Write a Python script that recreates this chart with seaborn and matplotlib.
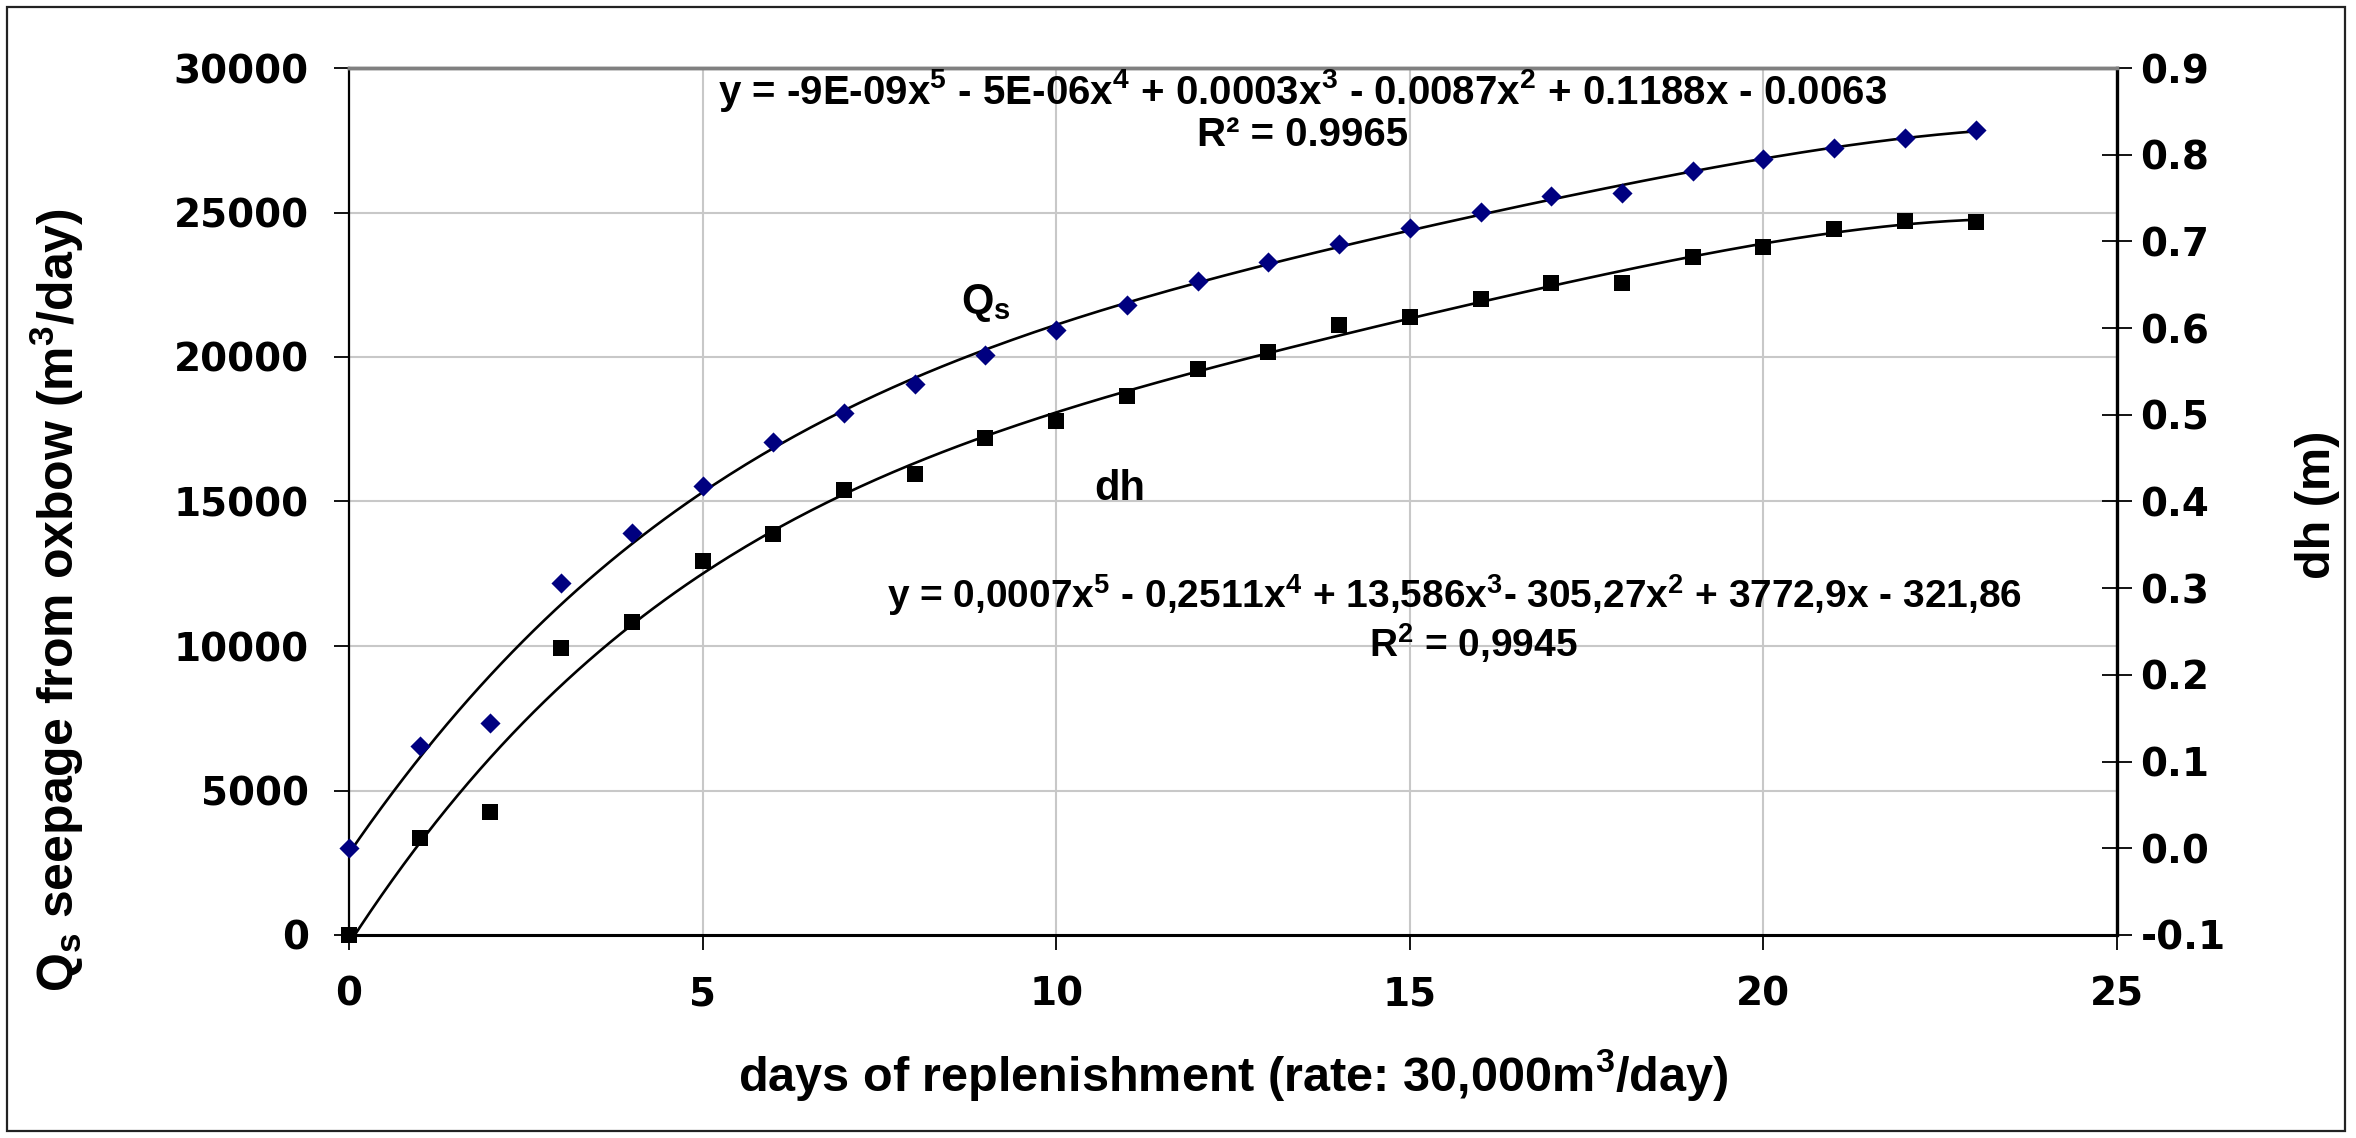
import numpy as np
import pandas as pd
import matplotlib
matplotlib.use('Agg')
import matplotlib.pyplot as plt
from matplotlib.patches import Rectangle
import seaborn as sns

# values
days = list(range(24))
qs_seepage = [0, 3345, 4267, 9942, 10842, 12953, 13864, 15398, 15952, 17208,
              17786, 18662, 19574, 20184, 21107, 21396, 22007, 22571, 22571,
              23470, 23796, 24429, 24706, 24682]
dh_values = [0.0, 0.118, 0.144, 0.306, 0.364, 0.418, 0.469, 0.502, 0.535,
             0.569, 0.598, 0.627, 0.654, 0.676, 0.697, 0.716, 0.734, 0.752,
             0.756, 0.781, 0.795, 0.808, 0.819, 0.828]
x_ticks = [0, 5, 10, 15, 20, 25]
left_ticks = [0, 5000, 10000, 15000, 20000, 25000, 30000]
right_ticks = [-0.1, 0.0, 0.1, 0.2, 0.3, 0.4, 0.5, 0.6, 0.7, 0.8, 0.9]

eq_top = ("y = -9E-09x$^5$ - 5E-06x$^4$ + 0.0003x$^3$ - 0.0087x$^2$ + "
          "0.1188x - 0.0063")
r2_top = "R² = 0.9965"
eq_bottom = ("y = 0,0007x$^5$ - 0,2511x$^4$ + 13,586x$^3$- 305,27x$^2$ + "
             "3772,9x - 321,86")
r2_bottom = "R$^2$ = 0,9945"

sns.set_style('white')

font = 'Liberation Sans'
plt.rcParams['font.family'] = [font, 'DejaVu Sans']
plt.rcParams['mathtext.fontset'] = 'custom'
plt.rcParams['mathtext.rm'] = font + ':bold'
plt.rcParams['mathtext.it'] = font + ':bold'
plt.rcParams['mathtext.bf'] = font + ':bold'

W, H = 2356, 1138
fig = plt.figure(figsize=(W / 100, H / 100), dpi=100)
ax = fig.add_axes([349 / W, 1 - 935 / H, (2117 - 349) / W, (935 - 68) / H])
ax2 = ax.twinx()

df = pd.DataFrame({'days': days, 'qs': qs_seepage, 'dh': dh_values})

# 5th order polynomial trendlines
xs = np.linspace(0, 23, 300)
fit_qs = np.polyval(np.polyfit(df['days'], df['qs'], 5), xs)
fit_dh = np.polyval(np.polyfit(df['days'], df['dh'], 5), xs)

sns.lineplot(x=xs, y=fit_qs, ax=ax, color='black', linewidth=1.9)
sns.scatterplot(data=df, x='days', y='qs', ax=ax, marker='s', color='black',
                s=140, linewidth=0, clip_on=False, zorder=5)
sns.lineplot(x=xs, y=fit_dh, ax=ax2, color='black', linewidth=1.9)
sns.scatterplot(data=df, x='days', y='dh', ax=ax2, marker='D', color='#000080',
                s=105, linewidth=0, clip_on=False, zorder=5)

ax.set_xlim(0, 25)
ax.set_ylim(0, 30000)
ax2.set_ylim(-0.1, 0.9)
ax.set_xticks(x_ticks)
ax.set_yticks(left_ticks)
ax2.set_yticks(right_ticks)
ax2.set_yticklabels([f'{v:.1f}' for v in right_ticks])
ax.set_xlabel('')
ax.set_ylabel('')
ax2.set_ylabel('')

ax.grid(True, color='#c8c8c8', linewidth=1.5)
ax.set_axisbelow(True)

for lab in ax.get_xticklabels() + ax.get_yticklabels() + ax2.get_yticklabels():
    lab.set_fontfamily('DejaVu Sans')
    lab.set_fontweight('bold')
    lab.set_fontsize(28)

ax.tick_params(axis='x', direction='out', length=11, width=1.3, pad=18,
               bottom=True, colors='black')
ax.tick_params(axis='y', direction='out', length=11, width=1.3, pad=18,
               left=True, colors='black')
ax2.tick_params(axis='y', direction='inout', length=22, width=1.3, pad=6,
                right=True, colors='black')

for a in (ax, ax2):
    a.spines['top'].set_color('#808080')
    a.spines['top'].set_linewidth(2.5)
ax.spines['left'].set_color('black')
ax.spines['left'].set_linewidth(1.6)
ax.spines['bottom'].set_color('black')
ax.spines['bottom'].set_linewidth(2.2)
ax.spines['right'].set_visible(False)
ax2.spines['left'].set_visible(False)
ax2.spines['bottom'].set_visible(False)
ax2.spines['right'].set_color('black')
ax2.spines['right'].set_linewidth(2.4)


def px(x, y):
    return x / W, 1 - y / H


lab_font = dict(family=[font, 'DejaVu Sans'], weight='bold', color='black')
fig.text(*px(1233, 1075), 'days of replenishment (rate: 30,000m$^3$/day)',
         ha='center', va='center', fontsize=35, **lab_font)
fig.text(*px(57, 600), 'Q$_\\mathrm{s}$ seepage from oxbow (m$^3$/day)',
         ha='center', va='center', rotation=90, fontsize=36, **lab_font)
fig.text(*px(2318, 505), 'dh (m)', ha='center', va='center', rotation=90,
         fontsize=35, **lab_font)

fig.text(*px(1302, 90), eq_top, ha='center', va='center', fontsize=29, **lab_font)
fig.text(*px(1303, 135), r2_top, ha='center', va='center', fontsize=29, **lab_font)
fig.text(*px(887, 595), eq_bottom, ha='left', va='center', fontsize=28, **lab_font)
fig.text(*px(1369, 643), r2_bottom, ha='left', va='center', fontsize=28, **lab_font)

fig.text(*px(961, 313), 'Q$_\\mathrm{s}$', ha='left', va='baseline', fontsize=30, **lab_font)
fig.text(*px(1094, 500), 'dh', ha='left', va='baseline', fontsize=30, **lab_font)

fig.patches.append(Rectangle((7 / W, 7 / H), (2345 - 7) / W, (1131 - 7) / H,
                             transform=fig.transFigure, fill=False,
                             edgecolor='#222222', linewidth=1.6))

fig.savefig('out.png', dpi=100)
